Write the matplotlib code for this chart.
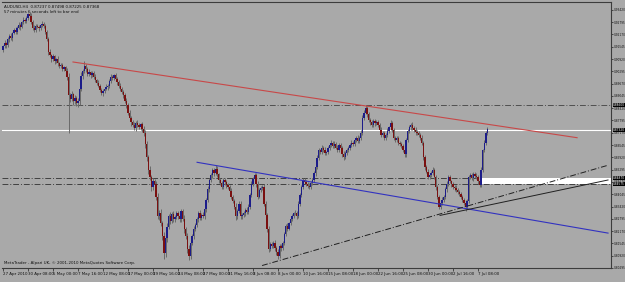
import matplotlib
matplotlib.use("Agg")
import matplotlib.pyplot as plt
from matplotlib import font_manager
import numpy as np

# AUDUSD H4, prices in pips (1e-4)
open0 = 9140
closes = [
    9157, 9175, 9162, 9192, 9210, 9198, 9225, 9242, 9230, 9252, 9267, 9255, 9278, 9292, 9284, 9300,
    9322, 9312, 9280, 9252, 9240, 9262, 9257, 9248, 9266, 9272, 9262, 9230, 9192, 9127, 9110, 9092,
    9105, 9080, 9092, 9070, 9057, 9062, 9042, 9050, 9032, 9000, 8907, 8890, 8912, 8877, 8895, 8870,
    8877, 8940, 9007, 9030, 9057, 9040, 9017, 9025, 9010, 9020, 9002, 8985, 8970, 8957, 8935, 8917,
    8930, 8942, 8950, 8957, 8980, 9002, 8995, 9010, 8992, 8975, 8957, 8940, 8925, 8907, 8880, 8857,
    8820, 8792, 8770, 8757, 8740, 8765, 8757, 8745, 8760, 8735, 8717, 8660, 8592, 8527, 8490, 8442,
    8470, 8457, 8392, 8292, 8310, 8257, 8192, 8107, 8180, 8240, 8292, 8270, 8302, 8277, 8290, 8307,
    8295, 8277, 8317, 8280, 8227, 8192, 8127, 8092, 8157, 8190, 8227, 8250, 8277, 8307, 8285, 8300,
    8292, 8330, 8377, 8430, 8477, 8500, 8527, 8510, 8532, 8505, 8477, 8460, 8442, 8477, 8465, 8450,
    8442, 8420, 8392, 8370, 8342, 8292, 8320, 8357, 8292, 8300, 8307, 8325, 8315, 8342, 8400, 8457,
    8480, 8502, 8457, 8392, 8427, 8435, 8442, 8357, 8300, 8227, 8127, 8150, 8142, 8157, 8130, 8110,
    8092, 8142, 8130, 8157, 8200, 8242, 8230, 8257, 8280, 8295, 8307, 8310, 8292, 8357, 8400, 8442,
    8477, 8465, 8457, 8448, 8442, 8460, 8477, 8510, 8542, 8590, 8627, 8620, 8642, 8630, 8612, 8617,
    8640, 8655, 8667, 8650, 8660, 8642, 8630, 8655, 8642, 8610, 8592, 8615, 8630, 8642, 8655, 8667,
    8660, 8680, 8692, 8675, 8692, 8717, 8792, 8820, 8842, 8810, 8782, 8770, 8757, 8777, 8765, 8770,
    8757, 8730, 8707, 8715, 8692, 8705, 8727, 8745, 8767, 8730, 8692, 8680, 8690, 8667, 8660, 8652,
    8630, 8607, 8680, 8727, 8745, 8757, 8740, 8732, 8720, 8715, 8707, 8690, 8667, 8592, 8542, 8520,
    8492, 8502, 8515, 8527, 8490, 8442, 8390, 8342, 8360, 8375, 8392, 8430, 8457, 8492, 8470, 8455,
    8442, 8435, 8427, 8415, 8407, 8390, 8377, 8360, 8342, 8370, 8492, 8500, 8485, 8507, 8498, 8492,
    8470, 8452, 8527, 8627, 8667, 8717, 8737,
]
up_wick = [
    8, 12, 6, 10, 9, 14, 7, 10, 12, 8, 11, 6, 9, 13, 7, 10,
    6, 10, 14, 8, 12, 7, 10, 9, 6, 11, 8, 9, 12, 10, 15, 8,
    12, 9, 7, 14, 8, 10, 12, 6, 9, 15, 20, 10, 18, 8, 12, 9,
    15, 20, 18, 10, 25, 12, 9, 14, 8, 11, 10, 12, 7, 13, 9, 10,
    12, 8, 14, 10, 9, 15, 11, 8, 12, 10, 9, 14, 8, 10, 12, 16,
    10, 14, 9, 12, 16, 10, 15, 12, 9, 14, 18, 12, 15, 10, 20, 14,
    18, 12, 16, 20, 14, 18, 12, 20, 25, 18, 14, 20, 12, 16, 10, 14,
    12, 15, 10, 14, 18, 12, 16, 20, 14, 12, 15, 10, 14, 12, 16, 10,
    12, 14, 10, 16, 12, 14, 10, 12, 20, 15, 10, 12, 14, 9, 12, 10,
    12, 10, 14, 9, 12, 16, 10, 12, 14, 8, 12, 10, 14, 12, 10, 14,
    12, 13, 10, 14, 9, 12, 10, 15, 12, 10, 14, 12, 10, 12, 14, 10,
    14, 10, 12, 9, 12, 10, 14, 8, 12, 10, 9, 12, 10, 14, 12, 10,
    12, 10, 14, 9, 12, 10, 12, 14, 10, 12, 14, 10, 12, 10, 14, 9,
    12, 10, 12, 9, 14, 10, 12, 8, 12, 10, 14, 9, 12, 10, 8, 12,
    10, 12, 9, 14, 10, 12, 14, 12, 15, 10, 12, 9, 14, 10, 12, 10,
    12, 10, 14, 9, 12, 10, 12, 9, 14, 10, 12, 10, 9, 12, 10, 12,
    10, 14, 12, 10, 12, 9, 14, 10, 12, 10, 12, 9, 14, 10, 12, 10,
    12, 10, 9, 14, 10, 12, 10, 12, 9, 14, 10, 12, 14, 10, 12, 9,
    12, 10, 14, 9, 12, 10, 12, 10, 14, 9, 12, 14, 10, 12, 10, 12,
    10, 12, 14, 9, 12, 10, 8,
]
down_wick = [
    10, 7, 12, 8, 11, 9, 13, 6, 10, 12, 8, 14, 7, 10, 9, 11,
    8, 12, 10, 14, 9, 11, 8, 12, 10, 9, 13, 10, 8, 12, 10, 14,
    10, 12, 8, 11, 9, 13, 10, 12, 8, 14, 190, 15, 12, 20, 14, 16,
    20, 18, 12, 14, 10, 16, 12, 9, 14, 10, 12, 8, 11, 9, 13, 10,
    12, 10, 9, 14, 11, 8, 12, 10, 9, 13, 10, 12, 9, 14, 11, 12,
    14, 10, 16, 12, 9, 14, 11, 10, 15, 12, 14, 20, 16, 18, 14, 20,
    16, 20, 18, 14, 20, 16, 18, 30, 20, 16, 14, 18, 12, 16, 14, 12,
    14, 12, 16, 10, 18, 14, 20, 22, 16, 12, 14, 10, 12, 14, 10, 12,
    10, 12, 14, 10, 12, 9, 14, 12, 10, 12, 14, 10, 12, 9, 12, 14,
    12, 14, 10, 12, 14, 16, 12, 10, 14, 12, 10, 12, 9, 10, 12, 10,
    12, 10, 14, 12, 9, 12, 10, 14, 12, 16, 14, 12, 10, 12, 14, 12,
    17, 10, 12, 9, 12, 10, 14, 8, 10, 12, 9, 10, 12, 9, 12, 10,
    12, 10, 9, 12, 10, 12, 9, 10, 12, 10, 9, 12, 10, 12, 9, 10,
    10, 12, 9, 10, 12, 9, 10, 12, 9, 14, 12, 10, 9, 12, 10, 9,
    12, 9, 10, 12, 9, 10, 12, 9, 10, 12, 10, 12, 9, 10, 12, 9,
    10, 12, 9, 12, 10, 12, 9, 10, 12, 10, 12, 9, 10, 12, 10, 12,
    10, 14, 12, 9, 10, 12, 9, 10, 12, 10, 9, 12, 10, 14, 12, 10,
    12, 10, 9, 12, 10, 14, 12, 15, 10, 12, 9, 10, 12, 10, 9, 12,
    10, 12, 9, 10, 12, 9, 10, 12, 25, 10, 12, 9, 10, 12, 10, 12,
    12, 10, 12, 9, 10, 12, 10,
]

date_labels = ["27 Apr 2010", "30 Apr 08:00", "5 May 00:00", "7 May 16:00", "12 May 08:00",
               "17 May 00:00", "19 May 16:00", "24 May 08:00", "27 May 00:00", "31 May 16:00",
               "3 Jun 08:00", "8 Jun 00:00", "10 Jun 16:00", "15 Jun 08:00", "18 Jun 00:00",
               "22 Jun 16:00", "25 Jun 08:00", "30 Jun 00:00", "2 Jul 16:00", "7 Jul 08:00"]
bars_per_label = 16

price_labels = [0.93420, 0.92795, 0.92170, 0.91545, 0.90920, 0.90295, 0.89670, 0.89045,
                0.88420, 0.87795, 0.87170, 0.86545, 0.85920, 0.85295, 0.84670, 0.84045,
                0.83420, 0.82795, 0.82170, 0.81545, 0.80920, 0.80295]

# objects drawn on the chart: (bar, price) endpoints
red_trend = [(44.8, 0.9077), (367.4, 0.8692)]
blue_trend = [(124.2, 0.8567), (387.2, 0.8207)]
dashdot_trend = [(165.8, 0.8042), (387.2, 0.8552)]
black_trend = [(279.7, 0.8297), (387.2, 0.8477)]
hline_res = 0.88600
bid = 0.87320
zone_top, zone_bot, zone_start = 0.84870, 0.84575, 305.3

# narrow font for the price scale, if there is one
try:
    font_manager.findfont("Liberation Sans Narrow", fallback_to_default=False)
    yfam = "Liberation Sans Narrow"
    fs_y = 2.6
except ValueError:
    yfam = "DejaVu Sans"
    fs_y = 2.1

bg = "#a9a9a9"
fs = 2.9
c = np.array(closes) / 10000.0
o = np.concatenate([[open0 / 10000.0], c[:-1]])
hi = np.maximum(o, c) + np.array(up_wick) / 10000.0
lo = np.minimum(o, c) - np.array(down_wick) / 10000.0
idx = np.arange(len(c))

fig = plt.figure(figsize=(6.25, 2.82), dpi=100, facecolor=bg)
ax = fig.add_axes([2 / 625, 14 / 282, 609 / 625, 266 / 282], facecolor=bg)
ax.set_xlim(-0.64, 389.1)
ax.set_ylim(0.8052, 0.9382)

# horizontal levels and zone
dd = (0, (6, 2, 1, 2))
ax.axhline(hline_res, color="#505050", lw=0.7, ls=dd, zorder=1)
ax.axhline(bid, color="white", lw=0.8, zorder=1)
ax.axhline(zone_top, color="#404040", lw=0.7, ls=dd, zorder=1)
ax.axhline(zone_bot, color="#404040", lw=0.7, ls=dd, zorder=1)
ax.fill_between([zone_start, 400], zone_bot, zone_top, color="white", lw=0, zorder=1.5)

# candles
up = c >= o
ax.vlines(idx, lo, hi, color="#6a6a6a", lw=0.7, zorder=2)
ax.bar(idx[up], (c - o)[up], bottom=o[up], width=0.85, color="#1c1c8a", lw=0, zorder=3)
ax.bar(idx[~up], (c - o)[~up], bottom=o[~up], width=0.85, color="#7a1010", lw=0, zorder=3)

# trendlines
for pts, col, ls, lw in [(red_trend, "#c84848", "-", 0.8), (blue_trend, "#3232c0", "-", 0.8),
                         (dashdot_trend, "#202020", dd, 0.7),
                         (black_trend, "#202020", "-", 0.7)]:
    xs, ys = zip(*pts)
    ax.plot(xs, ys, color=col, ls=ls, lw=lw, zorder=4)

for s in ax.spines.values():
    s.set_color("#3c3c3c")
    s.set_linewidth(0.8)
ax.spines["left"].set_visible(False)

ax.yaxis.tick_right()
ax.set_yticks(price_labels)
ax.set_yticklabels([f"{p:.5f}" for p in price_labels], family=yfam)
ax.set_xticks(np.arange(len(date_labels)) * bars_per_label)
ax.set_xticklabels(date_labels, ha="left")
ax.tick_params(axis="x", labelsize=fs, length=2, width=0.5, color="#202020",
               labelcolor="#101010", pad=0.6)
ax.tick_params(axis="y", labelsize=fs_y, length=1.5, width=0.5, color="#202020",
               labelcolor="#101010", pad=0.4)

# highlighted price tags
ymin, ymax = ax.get_ylim()
for p in [hline_res, bid, zone_top, zone_bot]:
    ax.text(1.0028, (p - ymin) / (ymax - ymin), f"{p:.5f}", transform=ax.transAxes,
            fontsize=fs_y, family=yfam, color="white", va="center", ha="left",
            bbox=dict(boxstyle="square,pad=0.05", fc="black", ec="none"), clip_on=False)

ax.text(0.004, 0.988, "AUDUSD,H4  0.87237 0.87498 0.87225 0.87368", transform=ax.transAxes,
        fontsize=fs, color="#101010", va="top")
ax.text(0.004, 0.97, "57 minutes 6 seconds left to bar end", transform=ax.transAxes,
        fontsize=fs, color="#101010", va="top")
ax.text(0.004, 0.012, "MetaTrader - Alpari UK, \u00a9 2001-2010 MetaQuotes Software Corp.",
        transform=ax.transAxes, fontsize=fs, color="#101010", va="bottom")

fig.savefig("out.png", dpi=100, facecolor=bg)
